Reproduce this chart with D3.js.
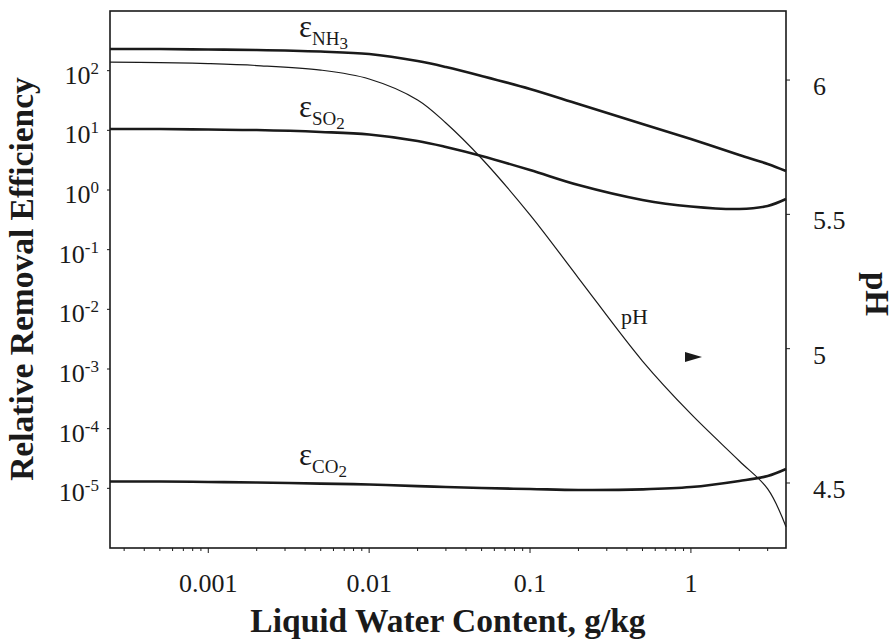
<!DOCTYPE html>
<html>
<head>
<meta charset="utf-8">
<script src="https://cdn.jsdelivr.net/npm/d3@7"></script>
<style>
  body { margin: 0; background: #fff; }
  text { font-family: "Liberation Serif", "Times New Roman", serif; fill: #1a1a1a; }
</style>
</head>
<body>
<script>
// liquid water content (g/kg)
var lwc = [0.000245, 0.0005, 0.001, 0.002, 0.005, 0.01, 0.02, 0.03, 0.05, 0.1, 0.2, 0.5, 1, 2, 3, 3.9];
// relative removal efficiencies
var effNH3 = [231, 231, 226, 222, 209, 190, 145, 115, 81.5, 49.3, 27.6, 12.8, 7.16, 3.86, 2.73, 2.08];
var effSO2 = [10.5, 10.5, 10.3, 10.1, 9.38, 8.51, 6.63, 5.26, 3.72, 2.16, 1.21, 0.681, 0.53, 0.481, 0.54, 0.706];
var effCO2 = [1.30e-5, 1.30e-5, 1.28e-5, 1.25e-5, 1.20e-5, 1.16e-5, 1.09e-5, 1.05e-5, 1.01e-5, 9.75e-6, 9.38e-6, 9.6e-6, 1.05e-5, 1.33e-5, 1.61e-5, 2.11e-5];
var pH = [6.067, 6.065, 6.061, 6.054, 6.037, 6.004, 5.926, 5.840, 5.708, 5.498, 5.263, 4.954, 4.757, 4.582, 4.478, 4.337];

var xTicks = [0.001, 0.01, 0.1, 1];
var xTickLabels = ["0.001", "0.01", "0.1", "1"];
var yExps = [2, 1, 0, -1, -2, -3, -4, -5];
var phTicks = [6, 5.5, 5, 4.5];

var w = 895, h = 642;
var plotL = 110, plotR = 786, plotT = 11, plotB = 548;

var svg = d3.select("body")
    .append("svg")
    .attr("width", w)
    .attr("height", h);

var x = d3.scaleLog().domain([0.000245, 3.9]).range([plotL, plotR]);
var y = d3.scaleLog().domain([1e-6, 1e3]).range([plotB, plotT]);
var yPh = d3.scaleLinear().domain([4.258, 6.257]).range([plotB, plotT]);

var ink = "#1a1a1a";

// frame
svg.append("rect")
    .attr("x", plotL)
    .attr("y", plotT)
    .attr("width", plotR - plotL)
    .attr("height", plotB - plotT)
    .attr("fill", "none")
    .attr("stroke", ink)
    .attr("stroke-width", 1.6);

// bottom axis ticks
var minor = [];
[0.0001, 0.001, 0.01, 0.1, 1].forEach(function(d) {
    for (var k = 1; k < 10; k++) {
        var v = d * k;
        if (v >= 0.000245 && v <= 3.9) minor.push(v);
    }
});
svg.selectAll(".xminor")
    .data(minor)
    .enter()
    .append("line")
    .attr("x1", function(d) { return x(d); })
    .attr("x2", function(d) { return x(d); })
    .attr("y1", plotB)
    .attr("y2", function(d) { return xTicks.indexOf(d) >= 0 ? plotB + 5 : plotB + 3; })
    .attr("stroke", ink)
    .attr("stroke-width", 1);

svg.selectAll(".xlab")
    .data(xTicks)
    .enter()
    .append("text")
    .attr("x", function(d) { return x(d); })
    .attr("y", 592)
    .attr("text-anchor", "middle")
    .attr("font-size", "26px")
    .text(function(d, i) { return xTickLabels[i]; });

// left axis ticks and labels
svg.selectAll(".ytick")
    .data(yExps)
    .enter()
    .append("line")
    .attr("x1", plotL - 3)
    .attr("x2", plotL)
    .attr("y1", function(d) { return y(Math.pow(10, d)); })
    .attr("y2", function(d) { return y(Math.pow(10, d)); })
    .attr("stroke", ink)
    .attr("stroke-width", 1);

var ylab = svg.selectAll(".ylab")
    .data(yExps)
    .enter()
    .append("text")
    .attr("x", 99)
    .attr("y", function(d) { return y(Math.pow(10, d)) + 13; })
    .attr("text-anchor", "end")
    .attr("font-size", "26px");
ylab.append("tspan").text("10");
ylab.append("tspan")
    .attr("font-size", "17px")
    .attr("dy", -10)
    .text(function(d) { return d < 0 ? "-" + (-d) : String(d); });

// right axis (pH)
svg.selectAll(".phtick")
    .data(phTicks)
    .enter()
    .append("line")
    .attr("x1", plotR)
    .attr("x2", plotR + 4)
    .attr("y1", function(d) { return yPh(d); })
    .attr("y2", function(d) { return yPh(d); })
    .attr("stroke", ink)
    .attr("stroke-width", 1);

svg.selectAll(".phlab")
    .data(phTicks)
    .enter()
    .append("text")
    .attr("x", 813)
    .attr("y", function(d) { return yPh(d) + 15; })
    .attr("font-size", "26px")
    .text(function(d) { return String(d); });

// curves
var smooth = d3.curveCatmullRom.alpha(0.5);

function effLine(vals) {
    return d3.line()
        .x(function(d, i) { return x(lwc[i]); })
        .y(function(d) { return y(d); })
        .curve(smooth)(vals);
}

[effNH3, effSO2, effCO2].forEach(function(vals) {
    svg.append("path")
        .attr("d", effLine(vals))
        .attr("fill", "none")
        .attr("stroke", ink)
        .attr("stroke-width", 2.6);
});

svg.append("path")
    .attr("d", d3.line()
        .x(function(d, i) { return x(lwc[i]); })
        .y(function(d) { return yPh(d); })
        .curve(smooth)(pH))
    .attr("fill", "none")
    .attr("stroke", ink)
    .attr("stroke-width", 1.2);

// series labels
function epsLabel(xp, yp, sub, num) {
    var t = svg.append("text").attr("x", xp).attr("y", yp).attr("font-size", "31px");
    t.append("tspan").text("\u03b5");
    t.append("tspan").attr("font-size", "19px").attr("dy", 8).text(sub);
    t.append("tspan").attr("font-size", "17px").attr("dy", 4).text(num);
}
epsLabel(299, 37, "NH", "3");
epsLabel(299, 117, "SO", "2");
epsLabel(299, 465, "CO", "2");

svg.append("text")
    .attr("x", 621)
    .attr("y", 324)
    .attr("font-size", "22px")
    .text("pH");

// arrow marker pointing to the pH axis
svg.append("path")
    .attr("d", "M685,352 L702,357 L685,362 Z")
    .attr("fill", ink);

// axis titles
svg.append("text")
    .attr("transform", "translate(33,279) rotate(-90)")
    .attr("text-anchor", "middle")
    .attr("font-size", "33.5px")
    .attr("font-weight", "bold")
    .text("Relative Removal Efficiency");

svg.append("text")
    .attr("x", 448)
    .attr("y", 632)
    .attr("text-anchor", "middle")
    .attr("font-size", "33.5px")
    .attr("font-weight", "bold")
    .text("Liquid Water Content, g/kg");

svg.append("text")
    .attr("transform", "translate(866,294) rotate(90)")
    .attr("text-anchor", "middle")
    .attr("font-size", "33px")
    .attr("font-weight", "bold")
    .text("pH");
</script>
</body>
</html>
